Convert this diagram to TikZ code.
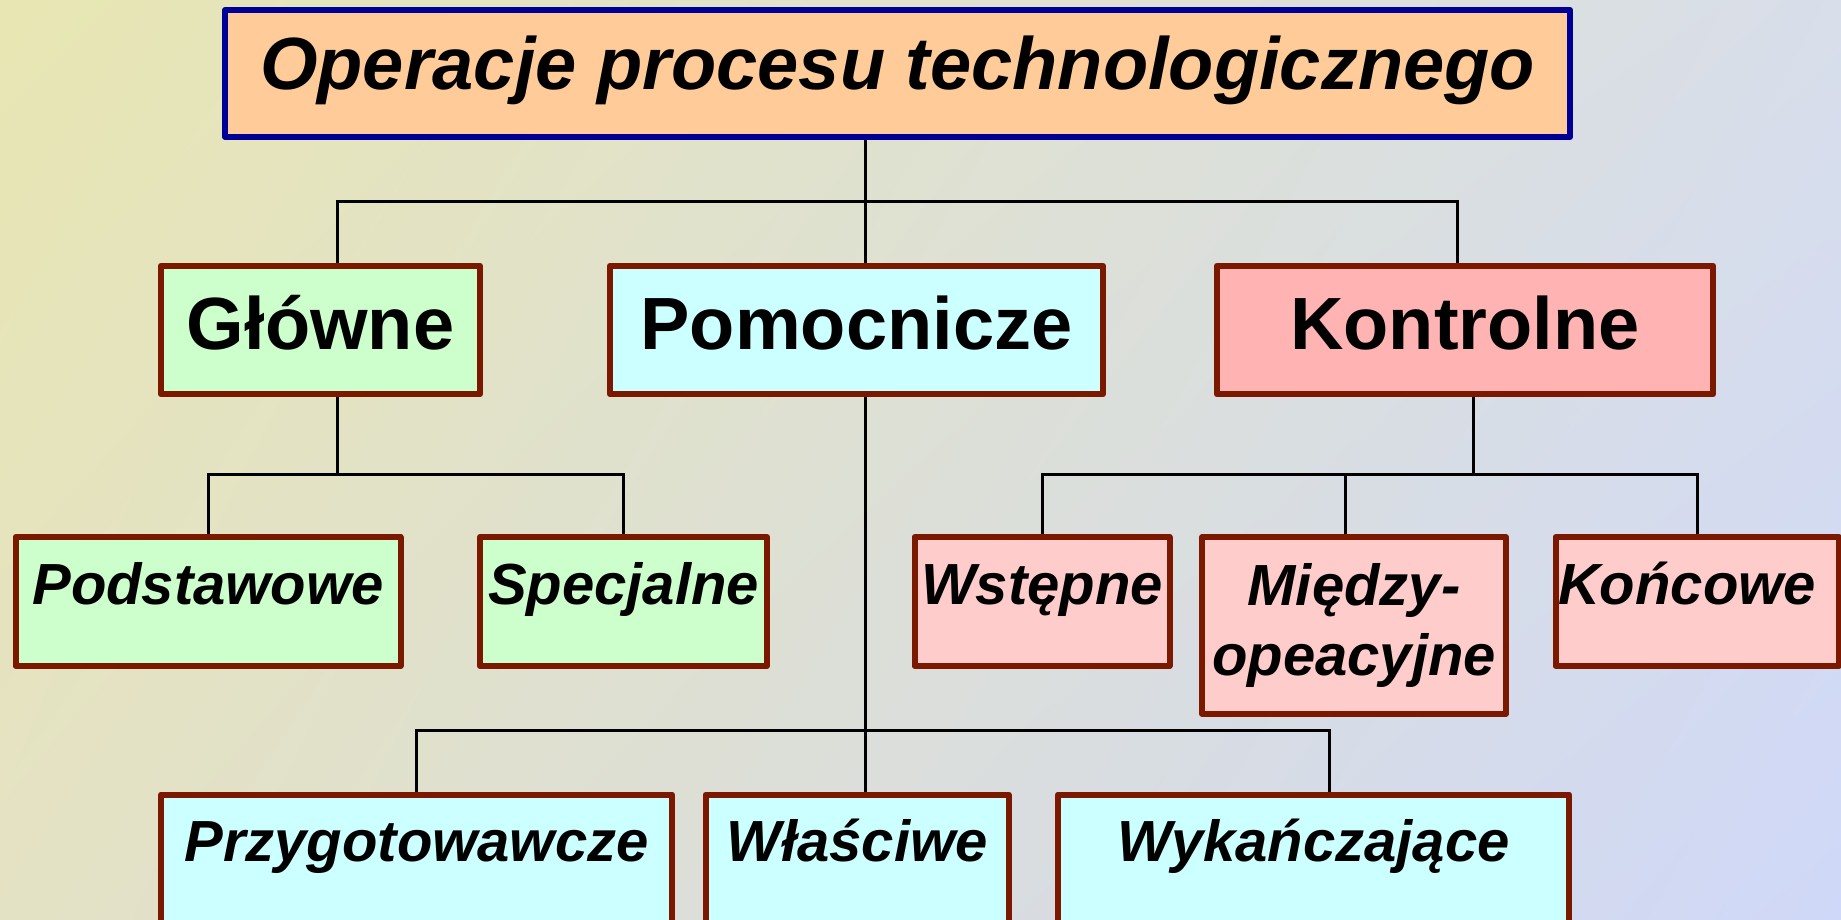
\documentclass[tikz,border=0pt]{standalone}
\usepackage{fontspec}
\setmainfont{Liberation Sans}
\usetikzlibrary{shadings}
\pgfdeclarelayer{bg}
\pgfsetlayers{bg,main}
\definecolor{bgUL}{RGB}{232,230,178}
\definecolor{bgUR}{RGB}{216,222,234}
\definecolor{bgLL}{RGB}{228,226,196}
\definecolor{bgLR}{RGB}{207,216,248}
\definecolor{titlefill}{RGB}{255,204,153}
\definecolor{titleborder}{RGB}{0,0,150}
\definecolor{boxred}{RGB}{122,24,0}
\definecolor{greenfill}{RGB}{204,255,204}
\definecolor{cyanfill}{RGB}{204,255,255}
\definecolor{kontfill}{RGB}{255,179,179}
\definecolor{pinkfill}{RGB}{255,204,204}
\begin{document}
\begin{tikzpicture}[x=1pt,y=-1pt,
  basebox/.style={rectangle, draw=boxred, line width=6pt, line join=round, inner sep=0pt, text=black},
  titlebox/.style={basebox, draw=titleborder, fill=titlefill,
    font=\bfseries\itshape\fontsize{74}{80}\selectfont, text height=52pt, text depth=19pt},
  lvlone/.style={basebox, font=\bfseries\fontsize{74}{80}\selectfont, text height=54pt, text depth=16pt,
    minimum height=128.5pt},
  subfont/.style={basebox, font=\bfseries\itshape\fontsize{58}{70}\selectfont},
  lvltwo/.style={subfont, text height=42pt, text depth=37pt, minimum height=129pt},
  lvlthree/.style={subfont, fill=cyanfill, text height=42pt, text depth=48pt, minimum height=140.5pt},
  conn/.style={draw=black, line width=3pt}
]
\useasboundingbox (0,0) rectangle (1841,920);
\clip (0,0) rectangle (1841,920);

% nodes
\node[titlebox, minimum width=1345pt, minimum height=127pt] (title) at (897.5,73.5) {Operacje procesu technologicznego};

\node[lvlone, fill=greenfill, minimum width=319pt] (glo) at (320.5,330) {Główne};
\node[lvlone, fill=cyanfill, minimum width=493pt] (pom) at (856.5,330) {Pomocnicze};
\node[lvlone, fill=kontfill, minimum width=496.5pt] (kon) at (1465,330) {Kontrolne};

\node[lvltwo, fill=greenfill, minimum width=385pt] (pod) at (208,601.5) {Podstawowe};
\node[lvltwo, fill=greenfill, minimum width=287pt] (spe) at (623.5,601.5) {Specjalne};

\node[lvltwo, fill=pinkfill, minimum width=255pt] (wst) at (1042,601.5) {Wstępne};
\node[subfont, fill=pinkfill, align=center, minimum width=303.5pt, minimum height=177pt] (mie) at (1354,625.5) {Między-\\opeacyjne};
\node[lvltwo, fill=pinkfill, minimum width=283pt] (kou) at (1697,601.5) {Końcowe\hspace*{20pt}};

\node[lvlthree, minimum width=511pt] (prz) at (416.5,864.75) {Przygotowawcze};
\node[lvlthree, minimum width=303pt] (wla) at (857,864.75) {Właściwe};
\node[lvlthree, minimum width=511pt] (wyk) at (1313.5,864.75) {Wykańczające};

% junctions
\coordinate (j1) at (865,202);
\coordinate (j2) at (337,474);
\coordinate (j3) at (1473,474);
\coordinate (j4) at (865,730);

\begin{pgfonlayer}{bg}
\shade[upper left=bgUL, upper right=bgUR, lower left=bgLL, lower right=bgLR] (0,0) rectangle (1841,920);
% level 1
\draw[conn] (title.south -| j1) -- (pom.north -| j1);
\draw[conn] ([xshift=16.5pt]glo.north) |- (j1) -| ([xshift=-8pt]kon.north);
% Glowne
\draw[conn] ([xshift=16.5pt]glo.south) -- (j2);
\draw[conn] (pod.north) |- (j2) -| (spe.north);
% Kontrolne
\draw[conn] ([xshift=8pt]kon.south) -- (j3);
\draw[conn] (wst.north) |- (j3) -| (kou.north);
\draw[conn] ([xshift=-8.5pt]mie.north) -- ([xshift=-8.5pt]mie.north |- j3);
% Pomocnicze
\draw[conn] (pom.south -| j4) -- (wla.north -| j4);
\draw[conn] (prz.north) |- (j4) -| ([xshift=15.5pt]wyk.north);
\end{pgfonlayer}
\end{tikzpicture}
\end{document}
